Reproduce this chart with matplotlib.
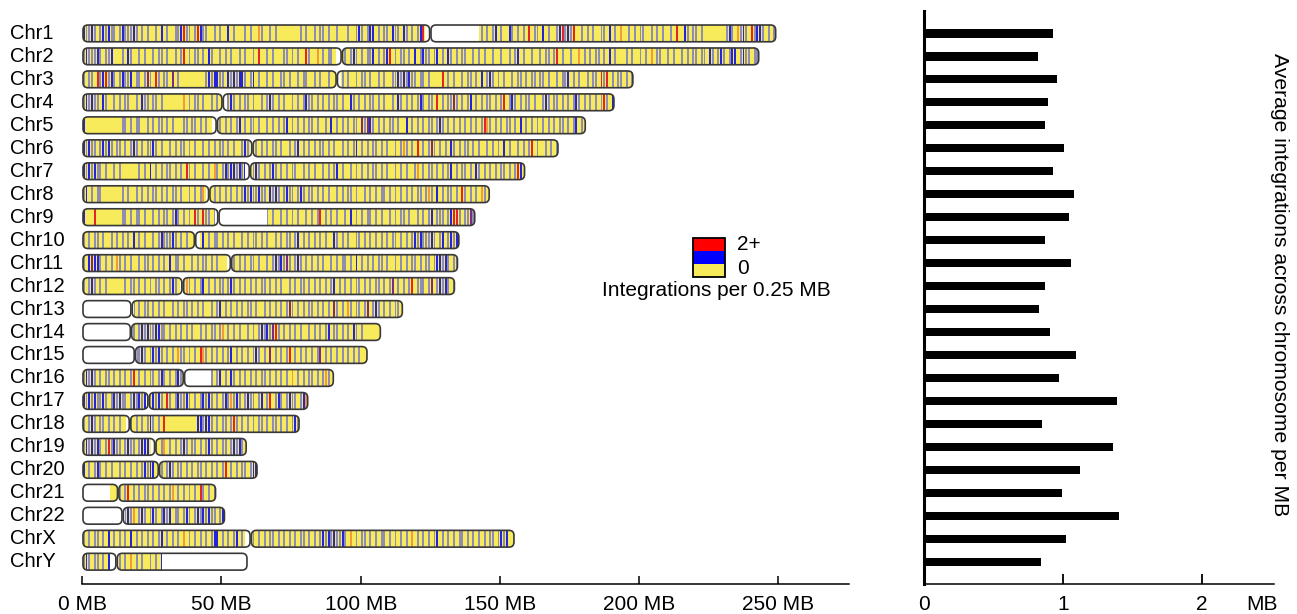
import matplotlib
matplotlib.use("Agg")
import matplotlib.pyplot as plt
from matplotlib.patches import FancyBboxPatch, Rectangle
from matplotlib.transforms import blended_transform_factory

plt.rcParams['font.family'] = ['Liberation Sans', 'DejaVu Sans']

# ---- data ----
chrom_names = ["Chr1", "Chr2", "Chr3", "Chr4", "Chr5", "Chr6", "Chr7", "Chr8", "Chr9", "Chr10",
               "Chr11", "Chr12", "Chr13", "Chr14", "Chr15", "Chr16", "Chr17", "Chr18", "Chr19",
               "Chr20", "Chr21", "Chr22", "ChrX", "ChrY"]
chrom_len = [249.3, 243.2, 198.0, 191.2, 180.9, 171.1, 159.1, 146.4, 141.2, 135.5, 135.0, 133.9,
             115.2, 107.3, 102.5, 90.4, 81.2, 78.1, 59.1, 63.0, 48.1, 51.3, 155.3, 59.4]
centromere = [125.0, 93.2, 91.4, 50.4, 48.3, 61.1, 60.2, 45.6, 48.9, 40.5, 53.4, 36.0,
              17.7, 17.5, 18.9, 36.5, 23.8, 17.1, 26.2, 27.5, 12.9, 14.5, 60.5, 12.3]
# regions without data (drawn white)
gaps = [[(123, 142.5)], [(91, 93.6)], [(91.4, 93)], [(50.4, 52)], [(46.5, 48.3)], [(60.2, 61.1)],
        [(58.5, 60.2)], [(44.3, 45.6)], [(47.5, 66.2)], [(40.5, 42.3)], [(51.8, 53.4)], [(35.2, 36)],
        [(0, 18.5)], [(0, 18.3)], [(0, 19.5)], [(36.5, 46.2)], [(22.8, 23.8)], [(15.6, 17.1)],
        [(24.8, 26.2)], [(26.8, 27.5)], [(0, 9.8)], [(0, 15.2)], [(58.6, 60.5)], [(9.9, 12.3), (28.7, 59.4)]]

# integration bins, one char per MB: '.' none, g/b light or single hit, p/o/r 2+
stripe_codes = [
    ("bggbg.gbgbgg.gbgggbg.g" ".g..g.b.g..g" "gbrgg.grbgg" "..g.g..b.g...g.g..og..g.g" "........"
     "g.g..g.gg.g..g" "...g.." "gbg.gbb.g.gg.bgg.bg.g.gb" "r.." ".................."
     "g.g.gb.g..bg.g.g.r.gg.b." "g.." "gbrgbgr" "..g.g.g..gg.b.g.o..g.g.gg..g.g" ".g..g.r..b"
     "g.gg.g." "......." "gbg.ogbg.rgbbg.g.g"),
    ("gbgggbg.gg" "b...g.bg..g.g..g.gg.g..g.gr" ".g.gg.g.bg..g.g.g" "..g.g..g.r..g.g...gg.g.g..rg..o.g.gg"
     "...." "g.gbg.g.ggb.g.gbr.g.gg.g.b.gbg" "g.gb.g.bg.g.gg..g.g.g" "..g..g..g.gb.g..g..g.gg."
     "gr.g..g..o.g.g.gg.g.b.g." "..g.g..g.g.o.gg..g.g..g.g.gg.g" "g.bg.gbg.gbb.gbgg.gg"),
    ("g.gg.r" "gbrgbg.gbggb.g" "g.gpg.rg.gg.p.g" "........." "gbgbbgg.bgbgbbg.gb" ".g..g.g..g"
     "g.g..g.gg..g.g..g." "..." "g.g..g.gg.g..g.g..ggbgbgbgg.gg.g" "...."
     "r.g.g..g.gg.g.b.gbg.g.g..g.gg.g.gg.g" "g.g..g.ggb.g.g..g.gg.rgr.g.gg.g.gb"),
    ("gbgbgg.bg" "..g.g.gg..g.bg" "g.gg.g" "......." "o.g.gg.g..g.g." ".."
     "gbg.g.gg.g..g.gbg.g.g..g.g.gbgg.g.g.g.gg.g..bg.g.g.gg.g.g..g.bg.g.g.gbg.g"
     "g.r.g.ggpg.g.gb.g.g.gg.g.gr.gbg.g.gg.g..gbg.gg.g.g.gbg.g.g.g.grg.b"),
    ("b.............g" "g.g.gg..g.g.gg.g" ".g...g" "g.gg.g.g.." ".."
     "g.g.g.gb.g.gg.g..g.g.g.gb.g.g.g.gg.g..g.b.g.g.g.gg.pgpbg.g.g.gg.g..b.g.g.g.g"
     "g.gbg.g.g.g.g.g.g.grog.g.g.gg.g.b.g.g.g.g.g.g.gg.g.gb.g"),
    ("bgbgg.gbgbg.gg.g.gbg.g.ggbg.g..g.g.gg.g.g..g.g.g.gg.g.g..gbg.g"
     "g.g.g.gg.g..g.gb.g.g.g.gg.g.g..g.g.gb.g.g.gg.g.g..g.gog.g.r.g.gpg.g.g.bg.g.gg.g.g..g.g.g.b.g..g.g.gr.g..g.g.g..g"),
    ("bgbgbg" "g.g..g.g......g.g" ".b.g.g.gg.g.g.r" "g.g..g.g.og.gb" "gbbgbgb" ".."
     "gbg.g.gbg.g.g.gg..g.g.g..g.g.gb.g..g.g.g.g.gg.g.g..g.g.g..go.g.g" "g.g.g.gb.g.gg.g.bg.g.g.g.gg.g.grb"),
    ("gb.g.gg" "......." "g.g..g.g.g.gg.g.g.gg.g..g.g.go.g" "." "g.g.g.g.g.gbgbggbgg.bgbg.gbgg.gbg.g"
     "g.g.g.g..g.g.gg.g..g.g.g.gg.g.g.g.g.g.gg.g" "og.b.g.gg.g.rg.g.g.og.gbb"),
    ("b...r.........g" "g.g.gg.g..g.g.gg.gbg.g.g.rg.rgg.g" ".................."
     "g.g..g.g.g.g..g.g.gr.g.g.g..g.b.g.g.gg.g.g..g.g.gg.g..g.g.gb.g" "gg.gbrrg.ggpg.g"),
    ("g.g.gg.g..g.g.g.g.b.g.g..g.gbgggbg.g.g.." "..."
     "b.g.gg.g.g.g..g.g.gg.g.g..g.g.gg.gb.g.g.g.g.g..bg.g.g..gg.g.g.g.g.g.gg.g.g.gbgbgg" "gbg.gb.gbgb"),
    ("g.bpbbg.g.g.og.g.g..g.gg.g.g.g.b.gg.g..g.g.gg.g.g.." "..."
     "g.g.g.gg.g..g.gbgbgpg.gbg.g.g.g.g..g.g.gg.g.b.g.g.g.gg.g..g.g.g.gg.g.g" "g.gbbgbg.gg"),
    ("g.gbg.g.g......g.gg.g.g.g.gg.g.gbg" ".."
     "gog.g.gb.g.g.gg.gbg.g.g.g.g.gg.g.g.g..g.g.gg.g.g.g.g.gb.g.g.g.gg.g.g.gg.g.gp.g.g.gr.gg" "g.gp.gbgbg.g"),
    (".................."
     "g.g.gg.g.g.g..g.g.gg.g.g.g..g.gb.g.g.g.g.gg.g..g.g.g.g.gpg.g.g.gg.g.g.g.pg.g.og.gg.gp.gbg.g.g.gg."),
    (".................."
     "g.gbgbggbbgg.g.g.g.g.g..g.g.gg.go.g.g.g..g.g.gbgbgprg.g.g.g.g..g.g.g.gb.gg.g.g.bg.g"),
    ("..................."
     "ggbg.gbgbg.g.g.ogg.g.g.rog.g.g.g.gb.g.g.g.gbg.g.p.g.g.gr.g.g.g.g.gp.g.g.g.g.g.g.g"),
    ("gbgbg.g.gg.g.g.g.gr.g.g.gg.gbg.g.gbg" ".........." "g.gb.g.bg.g.g.g.g.gg.g.g.g.g.o.g.g.gg.g.gog.g"),
    ("bgbgbggbg.gbgbgg.gbgbgb" "." "gbgbg.rg.gbggbg.g.gbgbg.g.gbgogbg.gbgg.gb.gr.gbg.gbgg.gbo"),
    ("g.gbg.gg.g.g.g.." "." "g.g.g.gbg.g.r" "..........." "bbgbb" "g.g.gg.grg.g.g.g.gg.g.gg.g.g.gbg."),
    ("gbgbgbg.grgbgg.gbgg.gbbb" ".." "g.go.g.g.gbg.gg.g.gbg.g.gg.gbgbg"),
    ("b.g.gbg.g.g..g.g.g.g.gbgbb" ".." "g.gbg.gg.g.g.gg.g.g.g.gr.g.g.gg.gbb"),
    ("............." "g.gr.g.g.gg.g.g.g.go.g.g.g.g.rg.g.g"),
    ("..............." "gbgo.gbg.gbg.gbgb.gg.gbg.gbgbgbgg.gb"),
    ("g.g.gg.g.b.g.g.g.b.g.g.g.g.gb.g.g.g.o.g.g.g.g.gbb.g.g.gb.g.." "."
     "g.g.g.gg.g.g.g.g.gg.g.g.gbgbgbggbg.o.g.gg.g.g.gg.g.g.g.g.o.g.g.g.gb.g.g.g.gg.g.g.g.g.gg.gbgb"),
    ("gbg.gg.g.b" "..." "g.g.o.g.g..g.g.b"),
]

avg_per_mb = [0.93, 0.82, 0.96, 0.89, 0.87, 1.01, 0.93, 1.08, 1.04, 0.87, 1.06, 0.87,
              0.83, 0.91, 1.09, 0.97, 1.39, 0.85, 1.36, 1.12, 0.99, 1.40, 1.02, 0.84]

bar_ticks = [0, 1, 2]
mb_ticks = [0, 50, 100, 150, 200, 250]

# ---- style ----
YELLOW = '#f7ea5b'
EDGE = '#383838'
STRIPE_COL = {'g': '#8f8db2', 'b': '#2424d8', 'r': '#e3242b', 'o': '#f39a3c', 'p': '#7d2a86'}
W, H = 1297, 614


def fx(px):
    return px / W


def fy(py):
    return 1 - py / H


row0, row_step = 33.4, 22.97
y_top = (11 - row0) / row_step
y_bot = (584 - row0) / row_step
px_per_mb = 2.784
aspect = px_per_mb / row_step
bh = 0.73
rs = 1.8
sw = 0.7  # stripe width in MB

fig = plt.figure(figsize=(W / 100, H / 100), dpi=100)
ax = fig.add_axes([fx(82.3), fy(584), fx(849) - fx(82.3), fy(11) - fy(584)])
ax.set_xlim(0, (849 - 82.3) / px_per_mb)
ax.set_ylim(y_bot, y_top)

for row, (L, cen, code) in enumerate(zip(chrom_len, centromere, stripe_codes)):
    for a0, a1 in [(0, cen), (cen, L)]:
        box = ((a0 + 0.25, row - bh / 2), a1 - a0 - 0.5, bh)
        base = FancyBboxPatch(*box, boxstyle=f"round,pad=0,rounding_size={rs}",
                              mutation_aspect=aspect, fc=YELLOW, ec='none', zorder=1)
        ax.add_patch(base)
        for ch, col in STRIPE_COL.items():
            spans = [(i + 0.5 - sw / 2, sw) for i, c in enumerate(code)
                     if c == ch and a0 <= i + 0.5 < a1]
            if spans:
                pc = ax.broken_barh(spans, (row - bh / 2, bh), facecolors=col, linewidth=0, zorder=2)
                pc.set_clip_path(base)
        for g0, g1 in gaps[row]:
            if g1 > a0 and g0 < a1:
                r = Rectangle((max(g0, a0), row - bh / 2), min(g1, a1) - max(g0, a0), bh,
                              fc='white', ec='none', zorder=3)
                ax.add_patch(r)
                r.set_clip_path(base)
        outline = FancyBboxPatch(*box, boxstyle=f"round,pad=0,rounding_size={rs}",
                                 mutation_aspect=aspect, fc='none', ec=EDGE, lw=1.2, zorder=4,
                                 clip_on=False)
        ax.add_patch(outline)

label_tf = blended_transform_factory(fig.transFigure, ax.transData)
for row, name in enumerate(chrom_names):
    ax.text(fx(10), row, name, transform=label_tf, ha='left', va='center', fontsize=14.5)

for s in ['left', 'right', 'top']:
    ax.spines[s].set_visible(False)
ax.spines['bottom'].set_linewidth(1.1)
ax.set_yticks([])
ax.set_xticks(mb_ticks)
ax.set_xticklabels([f"{t} MB" for t in mb_ticks], fontsize=15)
ax.tick_params(axis='x', direction='in', length=6, width=1.1, pad=8)

# legend
leg_cols = ['#ff0000', '#0000ff', YELLOW]
for k, col in enumerate(leg_cols):
    fig.patches.append(Rectangle((fx(693), fy(238 + 13 * (k + 1))), fx(32), 13 / H,
                                 transform=fig.transFigure, fc=col, ec='none'))
fig.patches.append(Rectangle((fx(693), fy(277)), fx(32), 39 / H, transform=fig.transFigure,
                             fc='none', ec='black', lw=1.3))
fig.text(fx(737), fy(245), "2+", fontsize=15, va='center', ha='left')
fig.text(fx(737), fy(268), "0", fontsize=15, va='center', ha='left')
fig.text(fx(716), fy(290), "Integrations per 0.25 MB", fontsize=15, va='center', ha='center')

# right panel
ax2 = fig.add_axes([fx(924), fy(584), fx(1274) - fx(924), fy(11) - fy(584)])
ax2.barh(range(len(avg_per_mb)), avg_per_mb, height=0.36, color='black')
ax2.set_ylim(y_bot, y_top)
ax2.set_xlim(0, 350 / 139)
for s in ['right', 'top']:
    ax2.spines[s].set_visible(False)
ax2.spines['left'].set_linewidth(2.2)
ax2.spines['bottom'].set_linewidth(1.1)
ax2.set_yticks([])
ax2.set_xticks(bar_ticks)
ax2.set_xticklabels([str(t) for t in bar_ticks], fontsize=15)
ax2.tick_params(axis='x', direction='in', length=7, width=1.3, pad=8)
fig.text(fx(1262), fy(604), "MB", fontsize=15, va='center', ha='center')
fig.text(fx(1279), fy(285), "Average integrations across chromosome per MB", fontsize=15.2,
         rotation=270, va='center', ha='center')

fig.savefig("out.png", dpi=100)
